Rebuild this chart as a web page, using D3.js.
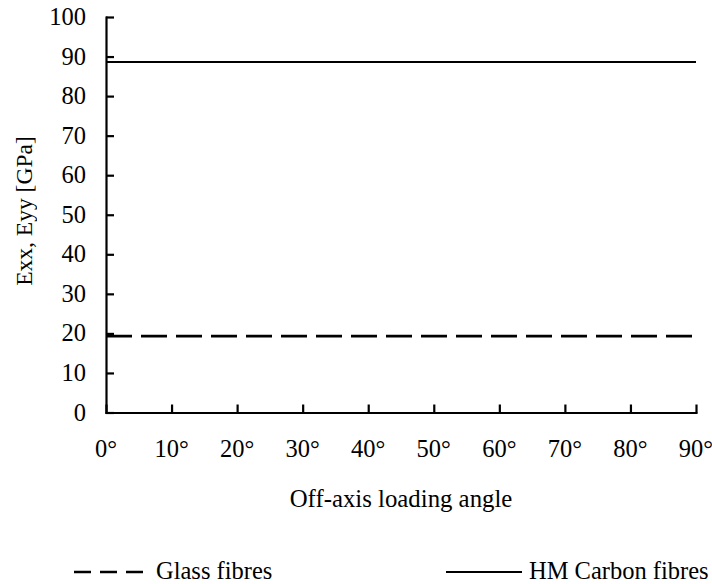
<!DOCTYPE html>
<html>
<head>
<meta charset="utf-8">
<script src="https://cdn.jsdelivr.net/npm/d3@7"></script>
<style>
  body { margin: 0; background: #fff; }
  svg { display: block; }
  text { font-family: "Liberation Serif", "Times New Roman", serif; fill: #000; }
</style>
</head>
<body>
<svg id="chart" width="712" height="584"></svg>
<script>
// values
var angles = [0, 10, 20, 30, 40, 50, 60, 70, 80, 90];
var glassFibres = [19.3, 19.3, 19.3, 19.3, 19.3, 19.3, 19.3, 19.3, 19.3, 19.3];
var carbonFibres = [88.6, 88.6, 88.6, 88.6, 88.6, 88.6, 88.6, 88.6, 88.6, 88.6];
var yTicks = [0, 10, 20, 30, 40, 50, 60, 70, 80, 90, 100];
var seriesNames = ["Glass fibres", "HM Carbon fibres"];

const svg = d3.select("#chart");
const fontSize = 24.5;

const x = d3.scaleLinear().domain([0, 90]).range([106, 696]);
const y = d3.scaleLinear().domain([0, 100]).range([412.5, 17]);

// axes, ticks pointing inwards
const xAxis = svg.append("g")
    .attr("transform", "translate(0," + y(0) + ")")
    .call(d3.axisBottom(x).tickValues(angles).tickSizeInner(-8).tickSizeOuter(0).tickFormat(""));
const yAxis = svg.append("g")
    .attr("transform", "translate(" + x(0) + ",0)")
    .call(d3.axisLeft(y).tickValues(yTicks).tickSizeInner(-8).tickSizeOuter(0).tickFormat(""));

[xAxis, yAxis].forEach(g => {
    g.selectAll("path, line").attr("stroke", "#000").attr("stroke-width", 2.2);
    g.select(".domain").attr("stroke-linecap", "square");
});

// tick labels
svg.append("g").selectAll("text")
    .data(yTicks)
    .enter().append("text")
    .attr("x", 86)
    .attr("y", d => y(d))
    .attr("dy", "0.33em")
    .attr("text-anchor", "end")
    .style("font-size", fontSize + "px")
    .text(d => d);

svg.append("g").selectAll("text")
    .data(angles)
    .enter().append("text")
    .attr("x", d => x(d))
    .attr("y", 457)
    .attr("text-anchor", "middle")
    .style("font-size", fontSize + "px")
    .text(d => d + "\u00b0");

// axis titles
svg.append("text")
    .attr("x", (x(0) + x(90)) / 2)
    .attr("y", 507)
    .attr("text-anchor", "middle")
    .style("font-size", "24.8px")
    .text("Off-axis loading angle");

// rotated title, opacity keeps the glyphs grey-scale antialiased
svg.append("text")
    .attr("transform", "translate(32,211) rotate(-90)")
    .attr("text-anchor", "middle")
    .style("font-size", "23.5px")
    .style("opacity", 0.99)
    .text("Exx, Eyy [GPa]");

// series
const line = d3.line().x(d => x(d[0])).y(d => y(d[1]));

svg.append("path")
    .datum(angles.map((a, i) => [a, glassFibres[i]]))
    .attr("fill", "none")
    .attr("stroke", "#000")
    .attr("stroke-width", 2.6)
    .attr("stroke-dasharray", "26,9")
    .attr("d", line);

svg.append("path")
    .datum(angles.map((a, i) => [a, carbonFibres[i]]))
    .attr("fill", "none")
    .attr("stroke", "#000")
    .attr("stroke-width", 2)
    .attr("d", line);

// legend
const legend = svg.append("g");
legend.append("line")
    .attr("x1", 74).attr("x2", 143).attr("y1", 572).attr("y2", 572)
    .attr("stroke", "#000").attr("stroke-width", 2.6)
    .attr("stroke-dasharray", "17,9");
legend.append("text")
    .attr("x", 156).attr("y", 579)
    .style("font-size", fontSize + "px")
    .text(seriesNames[0]);

legend.append("line")
    .attr("x1", 446).attr("x2", 522).attr("y1", 572).attr("y2", 572)
    .attr("stroke", "#000").attr("stroke-width", 2);
legend.append("text")
    .attr("x", 529).attr("y", 579)
    .style("font-size", fontSize + "px")
    .text(seriesNames[1]);
</script>
</body>
</html>
